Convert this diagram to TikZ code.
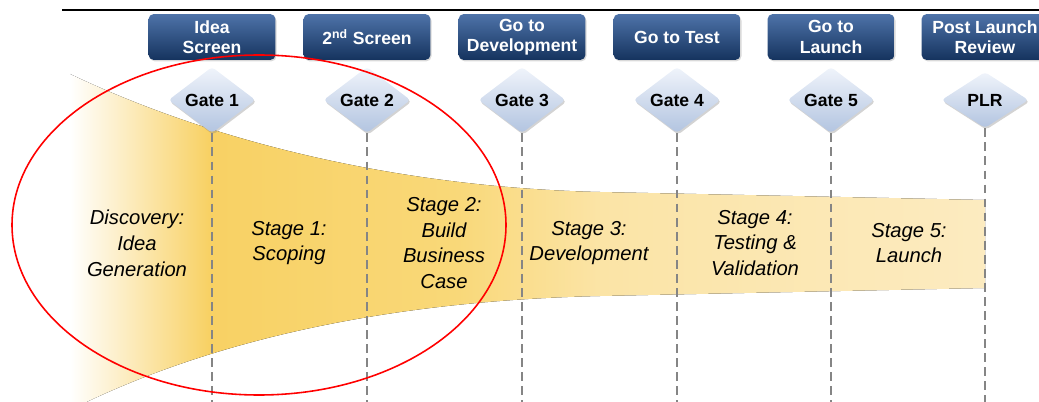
\documentclass[tikz,border=0pt]{standalone}
\usepackage{fontspec}
\setmainfont{Liberation Sans}
\usetikzlibrary{shapes.geometric,shadows}
\definecolor{navytop}{HTML}{4E73A9}
\definecolor{navybot}{HTML}{15335E}
\definecolor{gatetop}{HTML}{F0F4FB}
\definecolor{gatebot}{HTML}{B2C4E0}
\definecolor{funnelA}{HTML}{F8D164}
\definecolor{funnelB}{HTML}{F9D878}
\definecolor{funnelC}{HTML}{FBE4A6}
\definecolor{funnelD}{HTML}{FCEBC0}
\definecolor{dashgray}{HTML}{858585}
\pgfdeclarehorizontalshading{funnelshade}{100bp}{color(0bp)=(white); color(25bp)=(white); color(32.6bp)=(funnelA); color(46bp)=(funnelB); color(54bp)=(funnelC); color(75bp)=(funnelD); color(100bp)=(funnelD)}
\tikzset{
  scrbox/.style={rectangle, rounded corners=3pt, minimum width=2.54cm, minimum height=0.92cm, inner sep=0pt,
    top color=navytop, bottom color=navybot, text=white, align=center,
    font=\bfseries\fontsize{10}{11.5}\selectfont, drop shadow={opacity=0.3, shadow xshift=0.6pt, shadow yshift=-0.8pt}},
  gatebox/.style={diamond, rounded corners=2pt, minimum width=1.74cm, minimum height=1.12cm, inner sep=0pt,
    top color=gatetop, bottom color=gatebot, font=\bfseries\fontsize{10}{11.5}\selectfont,
    drop shadow={opacity=0.35, shadow xshift=0.6pt, shadow yshift=-1pt}},
  gateline/.style={dashgray, line width=1.1pt, dash pattern=on 5pt off 3pt},
  stagetxt/.style={align=center, text=black, font=\itshape\fontsize{11.5}{14.7}\selectfont}
}
\begin{document}
\begin{tikzpicture}[x=0.02cm, y=-0.02cm]
			\useasboundingbox (0,0) rectangle (1039,402);
			% funnel
			\fill[shading=funnelshade] (70,74) .. controls (230,150) and (420,188) .. (600,192) -- (985,200)
			  -- (985,288) -- (600,296) .. controls (420,300) and (230,330) .. (70,410) -- cycle;
			\draw[line width=1.1pt] (62,10) -- (1039,10);
			% gates
			\node[gatebox] (gate1) at (212,100) {Gate 1};
			\node[gatebox] (gate2) at (367,100) {Gate 2};
			\node[gatebox] (gate3) at (522,100) {Gate 3};
			\node[gatebox] (gate4) at (677,100) {Gate 4};
			\node[gatebox] (gate5) at (831,100) {Gate 5};
			\node[gatebox] (gate6) at (985,100) {PLR};
			\coordinate (bot1) at (212,402);
			\coordinate (bot2) at (367,402);
			\coordinate (bot3) at (522,402);
			\coordinate (bot4) at (677,402);
			\coordinate (bot5) at (831,402);
			\coordinate (bot6) at (985,402);
			\draw[gateline] (gate1.south) -- (bot1);
			\draw[gateline] (gate2.south) -- (bot2);
			\draw[gateline] (gate3.south) -- (bot3);
			\draw[gateline] (gate4.south) -- (bot4);
			\draw[gateline] (gate5.south) -- (bot5);
			\draw[gateline] (gate6.south) -- (bot6);
			% decision boxes
			\node[scrbox] (scr1) at (212,37) {Idea\\Screen};
			\node[scrbox] (scr2) at (367,37) {2\textsuperscript{nd} Screen};
			\node[scrbox] (scr3) at (522,37) {Go to\\Development};
			\node[scrbox] (scr4) at (677,37) {Go to Test};
			\node[scrbox] (scr5) at (831,37) {Go to\\Launch};
			\node[scrbox] (scr6) at (985,37) {Post Launch\\Review};
			% stages
			\node[stagetxt] (stage0) at (137,243) {Discovery:\\Idea\\Generation};
			\node[stagetxt] (stage1) at (289,243) {Stage 1:\\Scoping};
			\node[stagetxt] (stage2) at (444,243) {Stage 2:\\Build\\Business\\Case};
			\node[stagetxt] (stage3) at (589,243) {Stage 3:\\Development};
			\node[stagetxt] (stage4) at (755,243) {Stage 4:\\Testing \&\\Validation};
			\node[stagetxt] (stage5) at (909,243) {Stage 5:\\Launch};
			\draw[red, line width=0.9pt] (259,225) ellipse [x radius=247, y radius=170];
			\end{tikzpicture}
\end{document}
